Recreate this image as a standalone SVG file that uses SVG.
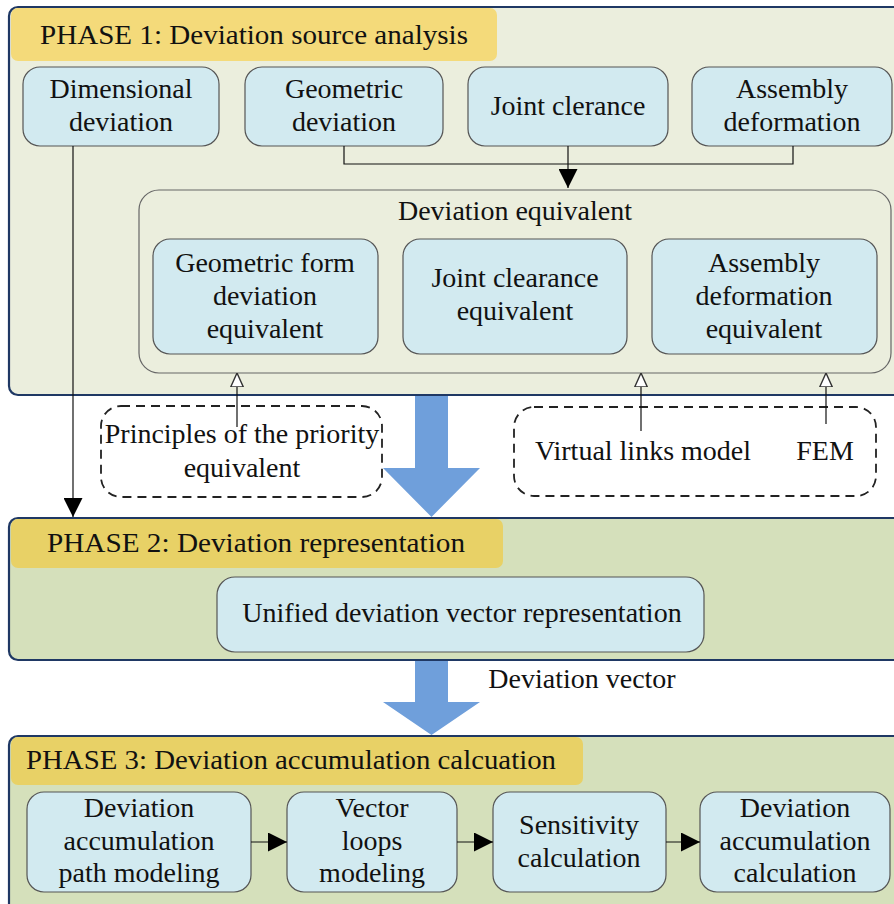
<svg xmlns="http://www.w3.org/2000/svg" width="894" height="904" viewBox="0 0 894 904">
<defs>
<style>
text{font-family:"Liberation Serif","Times New Roman",serif;font-size:28px;fill:#111;text-anchor:middle}
.hd{text-anchor:start}
.phase{stroke:#1f3864;stroke-width:2.2}
.p1{fill:#ebeedd}
.p23{fill:#d5e0bb}
.h1{fill:#f4da7a}
.h23{fill:#e8d166}
.box{fill:#d2eaf0;stroke:#555;stroke-width:1.2}
.cont{fill:none;stroke:#666;stroke-width:1.2}
.dash{fill:none;stroke:#222;stroke-width:1.8;stroke-dasharray:9 6}
.ln{fill:none;stroke:#111;stroke-width:1.2}
.big{fill:#6f9fdb}
</style>
<marker id="ah" viewBox="0 0 10 10" refX="10" refY="5" markerWidth="19" markerHeight="19" markerUnits="userSpaceOnUse" orient="auto"><path d="M0,0 L10,5 L0,10 Z" fill="#000"/></marker>
<marker id="oh" viewBox="0 0 10 10" refX="10" refY="5" markerWidth="14" markerHeight="14" markerUnits="userSpaceOnUse" orient="auto"><path d="M0,0.5 L10,5 L0,9.5 Z" fill="#fff" stroke="#333" stroke-width="1"/></marker>
</defs>
<rect width="894" height="904" fill="#fff"/>

<g id="phase1">
<rect class="phase p1" x="9" y="7" width="900" height="388" rx="9"/>
<rect class="h1" x="11" y="8" width="486" height="53" rx="7"/>
<text class="hd" x="40" y="44" textLength="428" lengthAdjust="spacingAndGlyphs">PHASE 1: Deviation source  analysis</text>
</g>

<g id="phase2">
<rect class="phase p23" x="9" y="518" width="900" height="142" rx="9"/>
<rect class="h23" x="11" y="519" width="492" height="49" rx="7"/>
<text class="hd" x="47" y="552" textLength="418" lengthAdjust="spacingAndGlyphs">PHASE 2: Deviation representation</text>
</g>

<g id="phase3">
<rect class="phase p23" x="9" y="736" width="900" height="190" rx="9"/>
<rect class="h23" x="11" y="737" width="572" height="48" rx="7"/>
<text class="hd" x="26" y="769" textLength="530" lengthAdjust="spacingAndGlyphs">PHASE 3: Deviation accumulation calcuation</text>
</g>

<g id="big-arrows">
<path class="big" d="M415,396 H448 V468 H480 L431.5,517 L383,468 H415 Z"/>
<path class="big" d="M415,661 H448 V702 H480 L431.5,735 L383,702 H415 Z"/>
</g>

<g id="dimensional">
<rect class="box" x="23" y="67" width="196" height="79" rx="17"/>
<text x="121" y="98">Dimensional</text>
<text x="121" y="131">deviation</text>
</g>
<g id="geometric">
<rect class="box" x="245" y="67" width="198" height="79" rx="17"/>
<text x="344" y="98">Geometric</text>
<text x="344" y="131">deviation</text>
</g>
<g id="joint">
<rect class="box" x="468" y="67" width="200" height="79" rx="17"/>
<text x="568" y="115">Joint clerance</text>
</g>
<g id="assembly">
<rect class="box" x="692" y="67" width="200" height="79" rx="17"/>
<text x="792" y="98">Assembly</text>
<text x="792" y="131">deformation</text>
</g>

<g id="equivalent">
<rect class="cont" x="139" y="190" width="752" height="183" rx="20"/>
<text x="515" y="220">Deviation equivalent</text>
</g>
<g id="geo-eq">
<rect class="box" x="153" y="239" width="225" height="115" rx="17"/>
<text x="265" y="272">Geometric form</text>
<text x="265" y="305">deviation</text>
<text x="265" y="338">equivalent</text>
</g>
<g id="joint-eq">
<rect class="box" x="403" y="239" width="224" height="115" rx="17"/>
<text x="515" y="287">Joint clearance</text>
<text x="515" y="320">equivalent</text>
</g>
<g id="asm-eq">
<rect class="box" x="652" y="239" width="225" height="115" rx="17"/>
<text x="764" y="272">Assembly</text>
<text x="764" y="305">deformation</text>
<text x="764" y="338">equivalent</text>
</g>

<g id="principles">
<rect class="dash" x="101" y="406" width="281" height="91" rx="20"/>
<text x="242" y="443">Principles of the priority</text>
<text x="242" y="477">equivalent</text>
</g>
<g id="methods">
<rect class="dash" x="514" y="407" width="362" height="89" rx="20"/>
<text x="643" y="460">Virtual links model</text>
<text x="825" y="460">FEM</text>
</g>

<g id="unified">
<rect class="box" x="217" y="577" width="487" height="75" rx="18"/>
<text x="462" y="622">Unified deviation vector representation</text>
</g>
<text x="582" y="688">Deviation vector</text>

<g id="path-model">
<rect class="box" x="27" y="792" width="224" height="100" rx="17"/>
<text x="139" y="817">Deviation</text>
<text x="139" y="850">accumulation</text>
<text x="139" y="882">path modeling</text>
</g>
<g id="vector-loops">
<rect class="box" x="287" y="792" width="170" height="100" rx="17"/>
<text x="372" y="817">Vector</text>
<text x="372" y="850">loops</text>
<text x="372" y="882">modeling</text>
</g>
<g id="sensitivity">
<rect class="box" x="493" y="792" width="173" height="100" rx="17"/>
<text x="579" y="834">Sensitivity</text>
<text x="579" y="867">calculation</text>
</g>
<g id="accum-calc">
<rect class="box" x="700" y="792" width="190" height="100" rx="17"/>
<text x="795" y="817">Deviation</text>
<text x="795" y="850">accumulation</text>
<text x="795" y="882">calculation</text>
</g>

<g id="connectors">
<path class="ln" d="M344,146 V164 H793 V146"/>
<path class="ln" d="M568,146 V188" marker-end="url(#ah)"/>
<path class="ln" d="M73,146 V517" marker-end="url(#ah)"/>
<path class="ln" d="M237,427 V373" marker-end="url(#oh)"/>
<path class="ln" d="M641,431 V373" marker-end="url(#oh)"/>
<path class="ln" d="M826,424 V373" marker-end="url(#oh)"/>
<path class="ln" d="M251,842 H287" marker-end="url(#ah)"/>
<path class="ln" d="M457,842 H493" marker-end="url(#ah)"/>
<path class="ln" d="M666,842 H700" marker-end="url(#ah)"/>
</g>
</svg>
